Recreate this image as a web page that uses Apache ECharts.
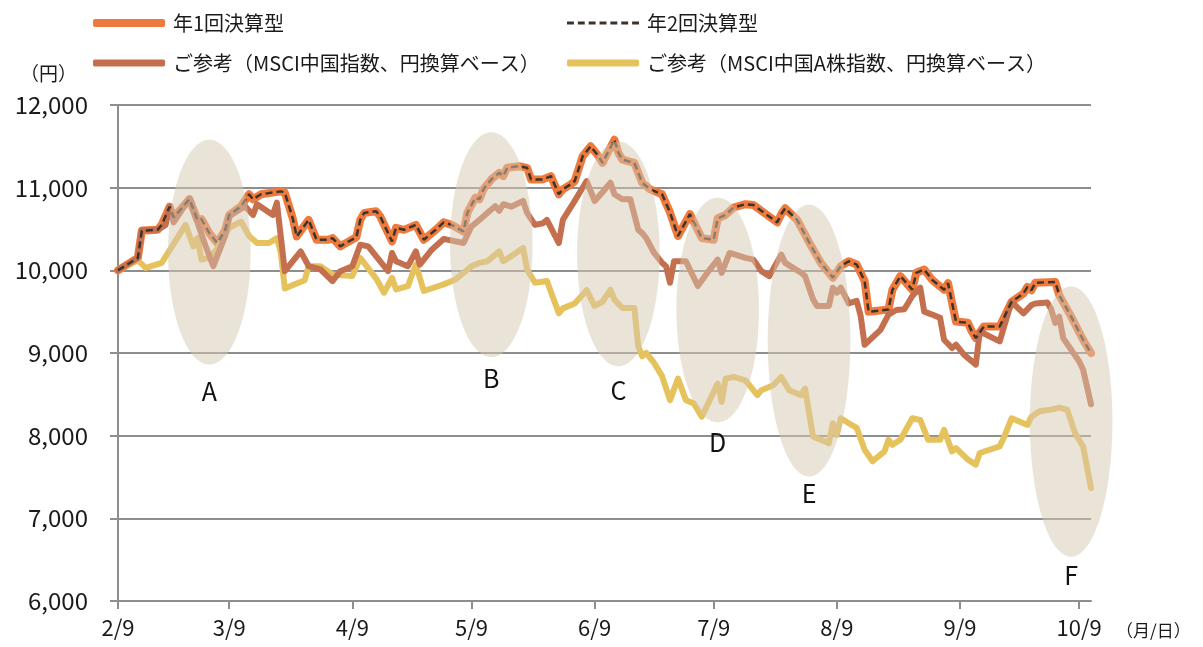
<!DOCTYPE html>
<html>
<head>
<meta charset="utf-8">
<title>chart</title>
<script src="https://cdn.jsdelivr.net/npm/echarts@6/dist/echarts.min.js"></script>
<style>
  html, body { margin: 0; padding: 0; background: #fff; }
  #main { width: 1203px; height: 647px; }
</style>
</head>
<body>
<div id="main"></div>
<script>
// year has no leap day (2/9 -> 3/9 is 28 days on the axis)
const YEAR = 2021

const tickDates = ['2/9', '3/9', '4/9', '5/9', '6/9', '7/9', '8/9', '9/9', '10/9']
const axisStart = '2/9'
const axisEnd = '10/12'

// 年1回決算型 / 年2回決算型 (both funds run on top of each other)
const fundDates = ['2/9','2/14','2/15','2/19','2/20','2/22','2/23','2/27','3/1','3/2','3/4','3/6','3/8','3/9','3/12','3/14','3/15','3/17','3/22','3/23','3/25','3/26','3/29','3/31','4/3','4/4','4/6','4/7','4/10','4/11','4/12','4/15','4/16','4/19','4/20','4/22','4/25','4/27','4/30','5/2','5/4','5/7','5/8','5/10','5/11','5/12','5/14','5/16','5/17','5/18','5/21','5/23','5/24','5/27','5/29','5/31','6/1','6/3','6/4','6/6','6/8','6/10','6/11','6/14','6/15','6/16','6/19','6/21','6/23','6/26','6/28','6/30','7/3','7/6','7/9','7/10','7/12','7/14','7/17','7/19','7/25','7/26','7/27','7/30','8/2','8/5','8/8','8/10','8/12','8/14','8/16','8/17','8/22','8/23','8/25','8/28','8/29','8/31','9/2','9/5','9/6','9/8','9/11','9/12','9/13','9/15','9/19','9/22','9/25','9/26','9/27','9/28','10/3','10/4','10/7','10/10','10/12']
const annualValues = [10000,10150,10480,10490,10550,10770,10640,10860,10610,10620,10450,10330,10490,10670,10775,10920,10860,10920,10955,10940,10630,10410,10610,10370,10370,10390,10290,10320,10400,10610,10695,10715,10655,10350,10515,10490,10550,10370,10490,10580,10550,10470,10700,10880,10860,10980,11100,11180,11140,11240,11260,11240,11100,11100,11140,10920,10980,11040,11080,11380,11500,11380,11300,11580,11420,11340,11300,11060,10980,10920,10700,10415,10680,10390,10370,10630,10670,10760,10800,10790,10580,10680,10750,10610,10340,10090,9910,10050,10110,10070,9870,9500,9525,9765,9930,9765,9970,10010,9885,9765,9845,9380,9365,9260,9180,9320,9320,9620,9720,9800,9760,9850,9860,9700,9440,9160,9000]
const semiAnnualValues = [10000,10150,10480,10490,10550,10770,10640,10860,10610,10620,10450,10330,10490,10670,10775,10920,10860,10920,10955,10940,10630,10410,10610,10370,10370,10390,10290,10320,10400,10610,10695,10715,10655,10350,10515,10490,10550,10370,10490,10580,10550,10470,10700,10880,10860,10980,11100,11180,11140,11240,11260,11240,11100,11100,11140,10920,10980,11040,11080,11380,11500,11380,11300,11580,11420,11340,11300,11060,10980,10920,10700,10415,10680,10390,10370,10630,10670,10760,10800,10790,10580,10680,10750,10610,10340,10090,9910,10050,10110,10070,9870,9500,9525,9765,9930,9765,9970,10010,9885,9765,9845,9380,9365,9260,9180,9320,9320,9620,9720,9800,9760,9850,9860,9700,9440,9160,9000]

// ご参考（MSCI中国指数、円換算ベース）
const chinaDates = ['2/9','2/14','2/15','2/19','2/21','2/22','2/23','2/27','3/1','3/3','3/5','3/8','3/9','3/13','3/15','3/16','3/20','3/21','3/23','3/27','3/29','4/1','4/4','4/6','4/9','4/11','4/13','4/18','4/19','4/20','4/23','4/25','4/26','4/29','5/2','5/7','5/9','5/11','5/13','5/15','5/16','5/17','5/19','5/22','5/23','5/25','5/27','5/28','5/31','6/1','6/4','6/7','6/9','6/10','6/13','6/14','6/16','6/18','6/20','6/21','6/22','6/24','6/26','6/27','6/28','6/29','7/2','7/5','7/8','7/10','7/11','7/13','7/17','7/19','7/21','7/23','7/26','7/27','7/31','8/1','8/3','8/4','8/7','8/8','8/9','8/10','8/12','8/14','8/15','8/16','8/20','8/22','8/24','8/26','8/28','8/30','8/31','9/2','9/4','9/5','9/7','9/8','9/10','9/13','9/14','9/19','9/22','9/25','9/27','9/28','10/1','10/2','10/3','10/4','10/5','10/9','10/10','10/12']
const chinaValues = [10000,10150,10490,10490,10550,10770,10580,10870,10580,10300,10050,10420,10655,10775,10670,10800,10670,10820,9990,10230,10050,10010,9870,9990,10050,10310,10290,9990,10210,10110,10050,10230,10070,10250,10380,10330,10530,10610,10695,10775,10720,10800,10770,10840,10695,10550,10570,10610,10330,10610,10840,11080,10840,10890,11060,10920,10860,10860,10490,10450,10390,10210,10090,10050,9850,10110,10110,9810,10010,10130,9970,10210,10150,10130,9990,9930,10190,10090,9970,9930,9650,9570,9570,9790,9730,9790,9600,9630,9450,9100,9280,9465,9520,9530,9690,9790,9500,9465,9425,9160,9060,9100,8980,8860,9260,9140,9620,9480,9580,9600,9610,9525,9365,9440,9180,8900,8800,8380]

// ご参考（MSCI中国A株指数、円換算ベース）
const chinaADates = ['2/9','2/14','2/16','2/20','2/26','2/28','3/1','3/2','3/4','3/6','3/7','3/9','3/12','3/14','3/16','3/19','3/21','3/22','3/23','3/26','3/28','3/29','4/1','4/4','4/9','4/11','4/15','4/17','4/19','4/20','4/23','4/25','4/27','5/2','5/5','5/8','5/9','5/11','5/13','5/16','5/17','5/19','5/22','5/23','5/25','5/28','5/31','6/1','6/4','6/7','6/9','6/11','6/13','6/14','6/16','6/19','6/20','6/21','6/22','6/24','6/26','6/28','6/30','7/2','7/4','7/6','7/10','7/11','7/12','7/14','7/17','7/20','7/21','7/24','7/26','7/28','7/31','8/1','8/3','8/7','8/8','8/9','8/10','8/12','8/14','8/16','8/18','8/21','8/22','8/23','8/25','8/28','8/30','9/1','9/4','9/5','9/7','9/8','9/11','9/13','9/14','9/19','9/20','9/22','9/26','9/27','9/29','10/2','10/4','10/6','10/8','10/10','10/12']
const chinaAValues = [10000,10120,10030,10090,10550,10290,10390,10130,10150,10260,10350,10515,10590,10415,10330,10330,10390,10210,9780,9840,9880,10050,10050,9950,9930,10150,9900,9730,9910,9770,9810,10070,9750,9830,9890,10010,10050,10090,10110,10230,10110,10170,10270,10010,9850,9870,9480,9540,9600,9760,9570,9620,9765,9645,9545,9545,9080,8960,9000,8880,8720,8430,8690,8430,8390,8230,8630,8410,8690,8710,8670,8490,8550,8610,8710,8550,8490,8570,7990,7910,8150,8010,8210,8150,8095,7830,7690,7810,7950,7890,7950,8210,8190,7950,7950,8070,7810,7850,7710,7650,7790,7870,7970,8210,8130,8230,8295,8315,8340,8315,8030,7870,7365]

// shaded callouts A-F
const calloutNames = ['A', 'B', 'C', 'D', 'E', 'F']
const calloutDates = ['3/4', '5/14', '6/15', '7/10', '8/2', '10/7']
const calloutValues = [10220, 10310, 10200, 9520, 9150, 8170]
const calloutHalfHeights = [1360, 1360, 1360, 1360, 1645, 1635]
const calloutLabelValues = [8534, 8697, 8546, 7923, 7300, 6309]
const calloutHalfDays = 10.4

const DAY = 86400000
const FONT = "'Noto Sans CJK JP', 'Noto Sans', sans-serif"

function toTime(md) {
  const [m, d] = md.split('/').map(Number)
  return new Date(YEAR, m - 1, d).getTime()
}
function toPoints(dates, values) {
  return dates.map((d, i) => [toTime(d), values[i]])
}

// dashed legend glyph: 7 short dashes
let dashIcon = 'path://'
for (let i = 0; i < 7; i++) {
  dashIcon += 'M' + (i * 11) + ',0h7v3h-7z'
}

const names = {
  annual: '年1回決算型',
  semi: '年2回決算型',
  china: 'ご参考（MSCI中国指数、円換算ベース）',
  chinaA: 'ご参考（MSCI中国A株指数、円換算ベース）'
}
const GRID_GREY = '#8e8e8e'

const legendBase = {
  orient: 'horizontal',
  selectedMode: false,
  itemWidth: 72,
  itemGap: 0,
  textStyle: { fontSize: 20, color: '#1a1a1a', fontFamily: FONT, padding: [0, 0, 0, 3] }
}

const chart = echarts.init(document.getElementById('main'))
chart.setOption({
  animation: false,
  backgroundColor: '#fff',
  textStyle: { fontFamily: FONT },
  grid: { left: 118, right: 112, top: 105, bottom: 46, containLabel: false },
  legend: [
    Object.assign({}, legendBase, { left: 88, top: 8, itemHeight: 8, data: [{ name: names.annual, icon: 'roundRect' }] }),
    Object.assign({}, legendBase, { left: 562, top: 8, itemHeight: 3, data: [{ name: names.semi, icon: dashIcon }] }),
    Object.assign({}, legendBase, { left: 88, top: 48, itemHeight: 7, data: [{ name: names.china, icon: 'roundRect' }] }),
    Object.assign({}, legendBase, { left: 562, top: 48, itemHeight: 7, data: [{ name: names.chinaA, icon: 'roundRect' }] })
  ],
  // value axis holding timestamps, so ticks can sit on the 9th of each month
  xAxis: {
    type: 'value',
    min: toTime(axisStart),
    max: toTime(axisEnd),
    axisLine: { show: true, lineStyle: { color: GRID_GREY, width: 2 } },
    axisTick: { show: true, length: 8, customValues: tickDates.map(toTime), lineStyle: { color: GRID_GREY, width: 2 } },
    axisLabel: {
      customValues: tickDates.map(toTime),
      formatter: v => { const d = new Date(v); return (d.getMonth() + 1) + '/' + d.getDate() },
      margin: 16,
      fontSize: 22,
      color: '#1a1a1a',
      fontFamily: FONT
    },
    splitLine: { show: false }
  },
  yAxis: {
    type: 'value',
    min: 6000,
    max: 12000,
    interval: 1000,
    axisLine: { show: true, lineStyle: { color: GRID_GREY, width: 2 } },
    axisTick: { show: true, length: 8, lineStyle: { color: GRID_GREY, width: 2 } },
    splitLine: { show: true, lineStyle: { color: GRID_GREY, width: 2 } },
    axisLabel: {
      formatter: v => v.toLocaleString('en-US'),
      margin: 30,
      fontSize: 24,
      color: '#1a1a1a',
      fontFamily: FONT
    }
  },
  graphic: [
    { type: 'text', left: 20, top: 64, style: { text: '（円）', fontSize: 19, fill: '#1a1a1a', fontFamily: FONT } },
    { type: 'text', left: 1116, top: 622, style: { text: '（月/日）', fontSize: 17, fill: '#1a1a1a', fontFamily: FONT } }
  ],
  series: [
    {
      name: names.annual,
      type: 'line',
      color: '#ee7a3e',
      symbol: 'none',
      lineStyle: { width: 8, join: 'round', cap: 'round' },
      data: toPoints(fundDates, annualValues),
      z: 2
    },
    {
      name: names.chinaA,
      type: 'line',
      color: '#e6c25c',
      symbol: 'none',
      lineStyle: { width: 6, join: 'round', cap: 'round' },
      data: toPoints(chinaADates, chinaAValues),
      z: 2
    },
    {
      name: names.china,
      type: 'line',
      color: '#c4704f',
      symbol: 'none',
      lineStyle: { width: 6, join: 'round', cap: 'round' },
      data: toPoints(chinaDates, chinaValues),
      z: 2
    },
    {
      name: names.semi,
      type: 'line',
      color: '#3b332c',
      symbol: 'none',
      lineStyle: { width: 2.5, type: [7, 4] },
      data: toPoints(fundDates, semiAnnualValues),
      z: 3
    },
    {
      name: 'callouts',
      type: 'custom',
      z: 10,
      silent: true,
      data: calloutDates.map((d, i) => [toTime(d), calloutValues[i], calloutHalfHeights[i], calloutLabelValues[i]]),
      encode: { x: 0, y: 1 },
      renderItem(params, api) {
        const t = api.value(0)
        const c = api.coord([t, api.value(1)])
        const e = api.coord([t + calloutHalfDays * DAY, api.value(1) + api.value(2)])
        const rx = e[0] - c[0]
        const ry = c[1] - e[1]
        const pts = []
        for (let i = 0; i < 90; i++) {
          const a = i / 90 * Math.PI * 2
          pts.push([c[0] + rx * Math.cos(a), c[1] + ry * Math.sin(a)])
        }
        const lab = api.coord([t, api.value(3)])
        return {
          type: 'group',
          children: [
            { type: 'polygon', shape: { points: pts }, style: { fill: 'rgba(213,199,177,0.5)' } },
            {
              type: 'text',
              x: lab[0],
              y: lab[1],
              style: {
                text: calloutNames[params.dataIndex],
                fontSize: 25,
                fill: '#111',
                fontFamily: FONT,
                align: 'center',
                verticalAlign: 'middle'
              }
            }
          ]
        }
      }
    }
  ]
})
</script>
</body>
</html>
